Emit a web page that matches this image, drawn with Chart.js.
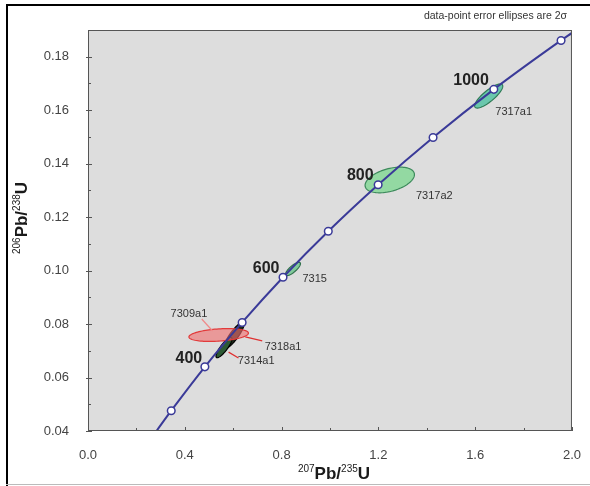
<!DOCTYPE html>
<html>
<head>
<meta charset="utf-8">
<script src="https://cdn.jsdelivr.net/npm/chart.js@4/dist/chart.umd.min.js"></script>
<style>
  html, body { margin: 0; padding: 0; background: #ffffff; }
  #wrap { width: 590px; height: 486px; position: relative; }
</style>
</head>
<body>
<div id="wrap"><canvas id="c" width="590" height="486"></canvas></div>
<script>
// Concordia curve vertices (207Pb/235U, 206Pb/238U)
const curveX = [0.283, 0.344, 0.483, 0.637, 0.806, 0.993, 1.199, 1.426, 1.677, 1.955, 2.000];
const curveY = [0.0400, 0.0476, 0.0640, 0.0806, 0.0975, 0.1147, 0.1321, 0.1498, 0.1678, 0.1861, 0.1889];

// Age marks along the concordia (Ma)
const markAges = [300, 400, 500, 600, 700, 800, 900, 1000, 1100];
const markX = [0.344, 0.483, 0.637, 0.806, 0.993, 1.199, 1.426, 1.677, 1.955];
const markY = [0.0476, 0.0640, 0.0806, 0.0975, 0.1147, 0.1321, 0.1498, 0.1678, 0.1861];

// Analysed spots: centre, 2-sigma errors and error correlation
const spotNames = ['7317a2', '7317a1', '7315', '7318a1', '7314a1', '7309a1'];
const spotX    = [1.247, 1.656, 0.847, 0.604, 0.562, 0.540];
const spotY    = [0.1339, 0.1653, 0.1006, 0.0758, 0.0712, 0.0759];
const spotErrX = [0.102, 0.058, 0.031, 0.041, 0.033, 0.123];
const spotErrY = [0.0048, 0.0045, 0.0025, 0.0049, 0.0038, 0.0024];
const spotRho  = [0.42, 0.82, 0.80, 0.86, 0.85, 0.30];

// Axis tick values
const xTickVals = [0.0, 0.4, 0.8, 1.2, 1.6, 2.0];
const xMinorVals = [0.2, 0.6, 1.0, 1.4, 1.8];
const yTickVals = [0.04, 0.06, 0.08, 0.10, 0.12, 0.14, 0.16, 0.18];
const yMinorVals = [0.05, 0.07, 0.09, 0.11, 0.13, 0.15, 0.17];

// Ellipse styles, same order as spotNames
const spotStyle = [
  { fill: 'rgba(140,216,156,0.92)', stroke: '#3d8a5c' },
  { fill: 'rgba(96,196,168,0.92)',  stroke: '#2f7a55' },
  { fill: 'rgba(120,200,150,0.92)', stroke: '#2f6f4a' },
  { fill: '#1e2a1c', stroke: '#000000' },
  { fill: '#2c5a34', stroke: '#000000' },
  { fill: 'rgba(240,112,112,0.62)', stroke: '#e23a3a' }
];

// Text annotations placed in data units
const ageNotes = [
  { text: '1000', x: 1.583, y: 0.1709 },
  { text: '800',  x: 1.125, y: 0.1354 },
  { text: '600',  x: 0.736, y: 0.1006 },
  { text: '400',  x: 0.417, y: 0.0669 }
];
const spotNotes = [
  { text: '7317a1', x: 1.759, y: 0.1593 },
  { text: '7317a2', x: 1.431, y: 0.1279 },
  { text: '7315',   x: 0.937, y: 0.0968 },
  { text: '7309a1', x: 0.417, y: 0.0838 },
  { text: '7318a1', x: 0.806, y: 0.0714 },
  { text: '7314a1', x: 0.695, y: 0.0662 }
];
const leaders = [
  { x1: 0.470, y1: 0.0819, x2: 0.515, y2: 0.0774, color: '#f08a8a' },
  { x1: 0.650, y1: 0.0752, x2: 0.720, y2: 0.0737, color: '#e03030' },
  { x1: 0.581, y1: 0.0695, x2: 0.622, y2: 0.0673, color: '#e03030' }
];

const FONT = "'Liberation Sans', Arial, sans-serif";

function ellipsePath(ctx, xs, ys, cx, cy, ex, ey, rho) {
  const s = Math.sqrt(1 - rho * rho);
  ctx.beginPath();
  for (let i = 0; i <= 96; i++) {
    const t = i / 96 * Math.PI * 2;
    const px = xs.getPixelForValue(cx + ex * Math.cos(t));
    const py = ys.getPixelForValue(cy + ey * (rho * Math.cos(t) + s * Math.sin(t)));
    if (i === 0) ctx.moveTo(px, py); else ctx.lineTo(px, py);
  }
  ctx.closePath();
}

function drawIsotopeTitle(ctx, parts, x, y, rotate) {
  // parts: [{t, sup}] drawn left to right, centred on (x, y)
  const big = 'bold 17px ' + FONT, small = '10px ' + FONT;
  let w = 0;
  parts.forEach(p => { ctx.font = p.sup ? small : big; w += ctx.measureText(p.t).width; });
  ctx.save();
  ctx.translate(x, y);
  if (rotate) ctx.rotate(-Math.PI / 2);
  ctx.fillStyle = '#1a1a1a';
  ctx.textBaseline = 'alphabetic';
  ctx.textAlign = 'left';
  let cx = -w / 2;
  parts.forEach(p => {
    ctx.font = p.sup ? small : big;
    ctx.fillText(p.t, cx, p.sup ? -1 : 6);
    cx += ctx.measureText(p.t).width;
  });
  ctx.restore();
}

const framePlugin = {
  id: 'frame',
  beforeDraw(chart) {
    const { ctx, chartArea: a } = chart;
    ctx.save();
    ctx.fillStyle = '#ffffff';
    ctx.fillRect(0, 0, chart.width, chart.height);
    ctx.fillStyle = '#dddddd';
    ctx.fillRect(a.left, a.top, a.right - a.left, a.bottom - a.top);
    ctx.restore();
  },
  beforeDatasetsDraw(chart) {
    const { ctx, chartArea: a } = chart;
    const xs = chart.scales.x, ys = chart.scales.y;
    ctx.save();
    ctx.beginPath();
    ctx.rect(a.left, a.top, a.right - a.left, a.bottom - a.top);
    ctx.clip();
    spotNames.forEach((n, i) => {
      ellipsePath(ctx, xs, ys, spotX[i], spotY[i], spotErrX[i], spotErrY[i], spotRho[i]);
      ctx.fillStyle = spotStyle[i].fill;
      ctx.fill();
      ctx.lineWidth = 1.2;
      ctx.strokeStyle = spotStyle[i].stroke;
      ctx.stroke();
    });
    leaders.forEach(l => {
      ctx.beginPath();
      ctx.moveTo(xs.getPixelForValue(l.x1), ys.getPixelForValue(l.y1));
      ctx.lineTo(xs.getPixelForValue(l.x2), ys.getPixelForValue(l.y2));
      ctx.strokeStyle = l.color;
      ctx.lineWidth = 1.2;
      ctx.stroke();
    });
    ctx.restore();
  },
  afterDraw(chart) {
    const { ctx, chartArea: a } = chart;
    const xs = chart.scales.x, ys = chart.scales.y;
    ctx.save();
    // plot box
    ctx.strokeStyle = '#555555';
    ctx.lineWidth = 1;
    ctx.strokeRect(a.left + 0.5, a.top + 0.5, a.right - a.left - 1, a.bottom - a.top - 1);
    // inward ticks
    ctx.beginPath();
    xTickVals.forEach(v => { const p = Math.round(xs.getPixelForValue(v)) + 0.5; ctx.moveTo(p, a.bottom); ctx.lineTo(p, a.bottom - 4); });
    xMinorVals.forEach(v => { const p = Math.round(xs.getPixelForValue(v)) + 0.5; ctx.moveTo(p, a.bottom); ctx.lineTo(p, a.bottom - 3); });
    yTickVals.forEach(v => { const p = Math.round(ys.getPixelForValue(v)) + 0.5; ctx.moveTo(a.left - 2, p); ctx.lineTo(a.left + 4, p); });
    yMinorVals.forEach(v => { const p = Math.round(ys.getPixelForValue(v)) + 0.5; ctx.moveTo(a.left, p); ctx.lineTo(a.left + 3, p); });
    ctx.stroke();

    // age and spot annotations
    ctx.textAlign = 'center';
    ctx.textBaseline = 'middle';
    ctx.fillStyle = '#222222';
    ctx.font = 'bold 16px ' + FONT;
    ageNotes.forEach(n => ctx.fillText(n.text, xs.getPixelForValue(n.x), ys.getPixelForValue(n.y)));
    ctx.font = '11px ' + FONT;
    ctx.fillStyle = '#333333';
    spotNotes.forEach(n => ctx.fillText(n.text, xs.getPixelForValue(n.x), ys.getPixelForValue(n.y)));

    // note above the plot
    ctx.font = '10.5px ' + FONT;
    ctx.textAlign = 'right';
    ctx.fillStyle = '#333333';
    ctx.fillText('data-point error ellipses are 2\u03C3', a.right - 5, 16);

    // axis titles
    drawIsotopeTitle(ctx, [{ t: '207', sup: true }, { t: 'Pb/', sup: false }, { t: '235', sup: true }, { t: 'U', sup: false }],
      (a.left + a.right) / 2 + 4, 473, false);
    drawIsotopeTitle(ctx, [{ t: '206', sup: true }, { t: 'Pb/', sup: false }, { t: '238', sup: true }, { t: 'U', sup: false }],
      21, 218, true);

    // outer frame
    ctx.fillStyle = '#000000';
    ctx.fillRect(6, 4, chart.width - 6, 2);
    ctx.fillRect(6, 4, 2, chart.height - 4);
    ctx.fillStyle = '#bbbbbb';
    ctx.fillRect(6, chart.height - 2, chart.width - 6, 1);
    ctx.restore();
  }
};

new Chart(document.getElementById('c'), {
  type: 'scatter',
  data: {
    datasets: [
      {
        label: 'concordia',
        data: curveX.map((x, i) => ({ x, y: curveY[i] })),
        showLine: true,
        borderColor: '#3a3a98',
        borderWidth: 2,
        pointRadius: 0,
        cubicInterpolationMode: 'monotone',
        order: 2
      },
      {
        label: 'age marks',
        data: markX.map((x, i) => ({ x, y: markY[i], age: markAges[i] })),
        showLine: false,
        pointRadius: 3.8,
        pointBackgroundColor: '#ffffff',
        pointBorderColor: '#3a3a98',
        pointBorderWidth: 1.5,
        order: 1
      }
    ]
  },
  options: {
    responsive: false,
    animation: false,
    events: [],
    layout: { padding: { left: 0, top: 30, right: 13, bottom: 0 } },
    plugins: { legend: { display: false }, tooltip: { enabled: false } },
    scales: {
      x: {
        type: 'linear', min: 0, max: 2.0,
        grid: { display: false }, border: { display: false },
        afterBuildTicks: s => { s.ticks = xTickVals.map(v => ({ value: v })); },
        afterFit: s => { s.height = 55; },
        ticks: { callback: v => Number(v).toFixed(1), color: '#444444', font: { family: FONT, size: 13 }, padding: 9, maxRotation: 0, autoSkip: false }
      },
      y: {
        type: 'linear', min: 0.04, max: 0.19,
        grid: { display: false }, border: { display: false },
        afterBuildTicks: s => { s.ticks = yTickVals.map(v => ({ value: v })); },
        afterFit: s => { s.width = 88; },
        ticks: { callback: v => Number(v).toFixed(2), color: '#444444', font: { family: FONT, size: 13 }, padding: 11, autoSkip: false }
      }
    }
  },
  plugins: [framePlugin]
});
</script>
</body>
</html>
